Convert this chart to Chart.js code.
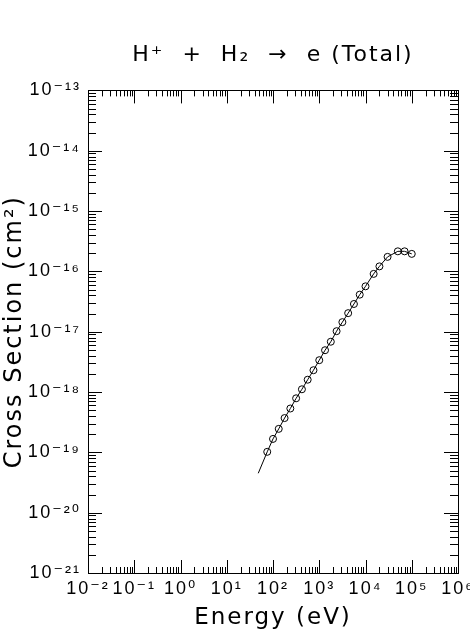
<!DOCTYPE html>
<html>
<head>
<meta charset="utf-8">
<script src="https://cdn.jsdelivr.net/npm/chart.js@4.4.1/dist/chart.umd.min.js"></script>
<style>
  html, body { margin: 0; padding: 0; background: #ffffff; }
  #wrap { width: 470px; height: 634px; }
</style>
</head>
<body>
<div id="wrap"><canvas id="c" width="470" height="634"></canvas></div>
<script>
// ---- Data ----
const energies = [75, 100, 133, 178, 237, 316, 422, 562, 750, 1000, 1334, 1778, 2371, 3162, 4217, 5623, 7499, 10000, 15000, 20000, 30000, 50000, 70000, 100000];
const crossSections = [1.02e-19, 1.67e-19, 2.45e-19, 3.70e-19, 5.33e-19, 7.87e-19, 1.11e-18, 1.60e-18, 2.30e-18, 3.37e-18, 4.93e-18, 6.82e-18, 1.02e-17, 1.44e-17, 2.03e-17, 2.88e-17, 4.11e-17, 5.65e-17, 9.08e-17, 1.21e-16, 1.74e-16, 2.15e-16, 2.15e-16, 1.95e-16];
const fitEnergies = [48, 75, 100, 133, 178, 237, 316, 422, 562, 750, 1000, 1334, 1778, 2371, 3162, 4217, 5623, 7499, 10000, 15000, 20000, 30000, 50000, 70000, 100000];
const fitValues = [4.5e-20, 1.02e-19, 1.67e-19, 2.45e-19, 3.70e-19, 5.33e-19, 7.87e-19, 1.11e-18, 1.60e-18, 2.30e-18, 3.37e-18, 4.93e-18, 6.82e-18, 1.02e-17, 1.44e-17, 2.03e-17, 2.88e-17, 4.11e-17, 5.65e-17, 9.08e-17, 1.21e-16, 1.74e-16, 2.15e-16, 2.15e-16, 1.95e-16];
const xExponents = [-2, -1, 0, 1, 2, 3, 4, 5, 6];
const yExponents = [-21, -20, -19, -18, -17, -16, -15, -14, -13];
const titleText = 'H\u207A  +  H\u2082  \u2192  e (Total)';
const xTitle = 'Energy (eV)';
const yTitle = 'Cross Section (cm\u00B2)';

const FONT = "'DejaVu Sans', 'Liberation Sans', sans-serif";
const TICK_FONT = "'Liberation Sans', 'DejaVu Sans', sans-serif";
const SUP = {'-': '\u207B', '0': '\u2070', '1': '\u00B9', '2': '\u00B2', '3': '\u00B3', '4': '\u2074', '5': '\u2075', '6': '\u2076', '7': '\u2077', '8': '\u2078', '9': '\u2079'};
function powLabel(e) { return '10' + String(e).split('').map(c => SUP[c]).join(''); }
function isDecade(v) {
  const e = Math.round(Math.log10(v));
  return Math.abs(v / Math.pow(10, e) - 1) < 1e-6;
}
function logTicks(exps) {
  const out = [];
  for (let i = 0; i < exps.length; i++) {
    const e = exps[i];
    const last = i === exps.length - 1;
    for (let m = 1; m <= (last ? 1 : 9); m++) {
      out.push({ value: m * Math.pow(10, e), major: m === 1 });
    }
  }
  return out;
}

const spacingPlugin = {
  id: 'spacing',
  beforeLayout(chart) { chart.ctx.letterSpacing = '2px'; },
  beforeDraw(chart) { chart.ctx.letterSpacing = '2px'; }
};

const framePlugin = {
  id: 'frame',
  afterDraw(chart) {
    const ctx = chart.ctx;
    const a = chart.chartArea;
    const xs = chart.scales.x, ys = chart.scales.y;
    ctx.save();
    ctx.strokeStyle = '#000';
    ctx.lineWidth = 1;
    ctx.beginPath();
    xs.ticks.forEach(t => {
      const px = Math.round(xs.getPixelForValue(t.value)) + 0.5;
      const len = t.major ? 13 : 6;
      ctx.moveTo(px, a.bottom); ctx.lineTo(px, a.bottom - len);
      ctx.moveTo(px, a.top); ctx.lineTo(px, a.top + len);
    });
    ys.ticks.forEach(t => {
      const py = Math.round(ys.getPixelForValue(t.value)) + 0.5;
      const len = t.major ? 14 : 8;
      ctx.moveTo(a.left, py); ctx.lineTo(a.left + len, py);
      ctx.moveTo(a.right, py); ctx.lineTo(a.right - len, py);
    });
    ctx.stroke();
    ctx.strokeRect(Math.round(a.left) + 0.5, Math.round(a.top) + 0.5, Math.round(a.right - a.left), Math.round(a.bottom - a.top));
    ctx.restore();
  }
};

new Chart(document.getElementById('c'), {
  type: 'scatter',
  data: {
    datasets: [
      {
        type: 'line',
        data: fitEnergies.map((e, i) => ({ x: e, y: fitValues[i] })),
        borderColor: '#000',
        borderWidth: 1,
        pointRadius: 0,
        fill: false,
        tension: 0,
        order: 2
      },
      {
        type: 'scatter',
        data: energies.map((e, i) => ({ x: e, y: crossSections[i] })),
        pointStyle: 'circle',
        pointRadius: 3.5,
        borderColor: '#000',
        borderWidth: 1,
        backgroundColor: 'rgba(0,0,0,0)',
        order: 1
      }
    ]
  },
  options: {
    responsive: false,
    devicePixelRatio: 1,
    animation: false,
    events: [],
    layout: { padding: { left: 0, right: 12, top: 0, bottom: 2 } },
    plugins: {
      legend: { display: false },
      tooltip: { enabled: false },
      title: {
        display: true,
        fullSize: false,
        text: titleText,
        color: '#000',
        font: { family: FONT, size: 22, weight: 'normal' },
        padding: { top: 42, bottom: 22 }
      }
    },
    scales: {
      x: {
        type: 'logarithmic',
        position: 'bottom',
        min: 1e-2,
        max: 1e6,
        grid: { display: false, drawTicks: false },
        border: { display: false },
        afterBuildTicks(scale) { scale.ticks = logTicks(xExponents); },
        afterFit(scale) { scale.height = 59; scale.paddingLeft = 0; scale.paddingRight = 0; },
        ticks: {
          autoSkip: false,
          maxRotation: 0,
          minRotation: 0,
          padding: 5,
          color: '#000',
          font: { family: TICK_FONT, size: 18 },
          callback(v) { return isDecade(v) ? powLabel(Math.round(Math.log10(v))) : ''; }
        },
        title: {
          display: true,
          text: xTitle,
          color: '#000',
          font: { family: FONT, size: 23 },
          padding: 0
        }
      },
      y: {
        type: 'logarithmic',
        min: 1e-21,
        max: 1e-13,
        grid: { display: false, drawTicks: false },
        border: { display: false },
        afterBuildTicks(scale) { scale.ticks = logTicks(yExponents); },
        afterFit(scale) { scale.width = 88; scale.paddingTop = 0; scale.paddingBottom = 0; },
        ticks: {
          autoSkip: false,
          padding: 7,
          color: '#000',
          font: { family: TICK_FONT, size: 18 },
          callback(v) { return isDecade(v) ? powLabel(Math.round(Math.log10(v))) : ''; }
        },
        title: {
          display: true,
          text: yTitle,
          color: '#000',
          font: { family: FONT, size: 24 },
          padding: 0
        }
      }
    }
  },
  plugins: [spacingPlugin, framePlugin]
});
</script>
</body>
</html>
